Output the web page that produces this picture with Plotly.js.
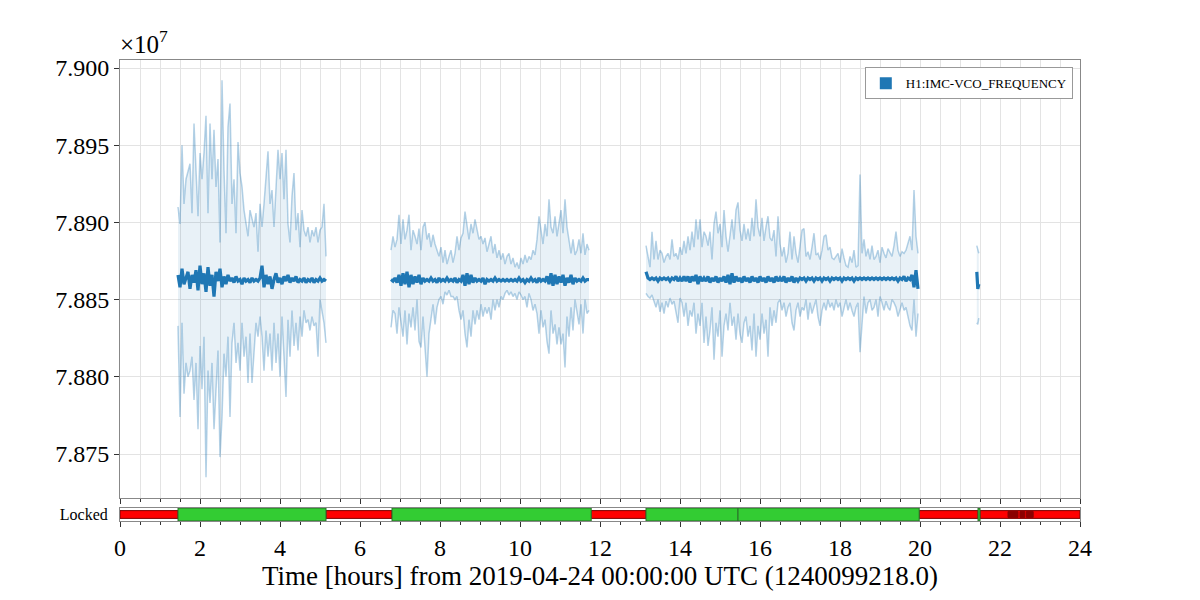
<!DOCTYPE html>
<html>
<head>
<meta charset="utf-8">
<script src="https://cdn.plot.ly/plotly-3.0.1.min.js"></script>
<style>
  html, body { margin: 0; padding: 0; background: #fff; }
  #chart { width: 1200px; height: 600px; }
</style>
</head>
<body>
<div id="chart"></div>
<script>
// H1:IMC-VCO_FREQUENCY, minute trends (values in units of 1e7 Hz)
// sampled every 0.05 h inside each lock stretch

// stretch 1: 1.45 h -> 5.15 h
const freqMax1 = [
  7.8910, 7.8899, 7.8950, 7.8912, 7.8928, 7.8934, 7.8938, 7.8906, 7.8964, 7.8934,
  7.8904, 7.8945, 7.8928, 7.8945, 7.8969, 7.8906, 7.8964, 7.8928, 7.8960, 7.8923,
  7.8941, 7.8887, 7.8992, 7.8934, 7.8893, 7.8962, 7.8977, 7.8912, 7.8928, 7.8893,
  7.8952, 7.8932, 7.8923, 7.8908, 7.8899, 7.8891, 7.8908, 7.8902, 7.8897, 7.8906,
  7.8881, 7.8912, 7.8897, 7.8912, 7.8928, 7.8946, 7.8912, 7.8921, 7.8897, 7.8921,
  7.8947, 7.8928, 7.8945, 7.8915, 7.8947, 7.8899, 7.8887, 7.8917, 7.8932, 7.8895,
  7.8906, 7.8884, 7.8908, 7.8895, 7.8891, 7.8897, 7.8887, 7.8895, 7.8891, 7.8897,
  7.8887, 7.8895, 7.8897, 7.8912, 7.8878
];
const freqMin1 = [
  7.8833, 7.8774, 7.8835, 7.8789, 7.8809, 7.8800, 7.8804, 7.8813, 7.8785, 7.8809,
  7.8766, 7.8820, 7.8792, 7.8826, 7.8735, 7.8804, 7.8783, 7.8809, 7.8766, 7.8792,
  7.8817, 7.8748, 7.8774, 7.8815, 7.8800, 7.8826, 7.8774, 7.8822, 7.8835, 7.8809,
  7.8822, 7.8804, 7.8835, 7.8813, 7.8826, 7.8796, 7.8828, 7.8796, 7.8820, 7.8835,
  7.8826, 7.8839, 7.8826, 7.8804, 7.8830, 7.8813, 7.8828, 7.8804, 7.8835, 7.8809,
  7.8828, 7.8800, 7.8839, 7.8817, 7.8787, 7.8837, 7.8813, 7.8843, 7.8820, 7.8835,
  7.8817, 7.8839, 7.8826, 7.8843, 7.8835, 7.8837, 7.8830, 7.8839, 7.8833, 7.8835,
  7.8813, 7.8850, 7.8843, 7.8835, 7.8822
];
const freqMean1 = [
  7.8866, 7.8858, 7.8870, 7.8860, 7.8864, 7.8868, 7.8857, 7.8866, 7.8861, 7.8869,
  7.8856, 7.8872, 7.8860, 7.8867, 7.8855, 7.8871, 7.8859, 7.8866, 7.8852, 7.8868,
  7.8862, 7.8870, 7.8858, 7.8865, 7.8860, 7.8866, 7.8862, 7.8864, 7.8861, 7.8865,
  7.8862, 7.8863, 7.8860, 7.8864, 7.8862, 7.8863, 7.8861, 7.8864, 7.8862, 7.8863,
  7.8862, 7.8864, 7.8872, 7.8858, 7.8866, 7.8860, 7.8865, 7.8857, 7.8863, 7.8867,
  7.8861, 7.8864, 7.8860, 7.8865, 7.8862, 7.8866, 7.8861, 7.8864, 7.8862, 7.8865,
  7.8861, 7.8863, 7.8862, 7.8864, 7.8861, 7.8863, 7.8862, 7.8864, 7.8861, 7.8863,
  7.8862, 7.8864, 7.8862, 7.8863, 7.8862
];

// stretch 2: 6.775 h -> 11.725 h
const freqMax2 = [
  7.8882, 7.8891, 7.8884, 7.8889, 7.8905, 7.8886, 7.8902, 7.8889, 7.8895, 7.8905,
  7.8882, 7.8895, 7.8891, 7.8886, 7.8896, 7.8882, 7.8897, 7.8900, 7.8889, 7.8893,
  7.8884, 7.8892, 7.8886, 7.8882, 7.8878, 7.8884, 7.8874, 7.8882, 7.8873, 7.8878,
  7.8882, 7.8874, 7.8880, 7.8891, 7.8882, 7.8890, 7.8893, 7.8907, 7.8896, 7.8889,
  7.8899, 7.8893, 7.8902, 7.8894, 7.8889, 7.8891, 7.8886, 7.8890, 7.8881, 7.8886,
  7.8891, 7.8880, 7.8886, 7.8877, 7.8882, 7.8876, 7.8880, 7.8873, 7.8878, 7.8880,
  7.8873, 7.8877, 7.8871, 7.8874, 7.8870, 7.8877, 7.8873, 7.8879, 7.8874, 7.8878,
  7.8876, 7.8882, 7.8879, 7.8889, 7.8904, 7.8895, 7.8886, 7.8899, 7.8891, 7.8915,
  7.8897, 7.8893, 7.8904, 7.8891, 7.8899, 7.8908, 7.8893, 7.8915, 7.8897, 7.8889,
  7.8880, 7.8889, 7.8879, 7.8882, 7.8889, 7.8880, 7.8893, 7.8879, 7.8886, 7.8882
];
const freqMin2 = [
  7.8832, 7.8843, 7.8841, 7.8828, 7.8845, 7.8837, 7.8826, 7.8843, 7.8821, 7.8841,
  7.8832, 7.8845, 7.8830, 7.8850, 7.8823, 7.8819, 7.8839, 7.8819, 7.8800, 7.8828,
  7.8839, 7.8847, 7.8834, 7.8845, 7.8850, 7.8852, 7.8847, 7.8855, 7.8853, 7.8856,
  7.8852, 7.8852, 7.8850, 7.8852, 7.8843, 7.8837, 7.8843, 7.8828, 7.8819, 7.8837,
  7.8826, 7.8843, 7.8834, 7.8843, 7.8837, 7.8847, 7.8839, 7.8845, 7.8841, 7.8845,
  7.8837, 7.8850, 7.8843, 7.8850, 7.8845, 7.8852, 7.8850, 7.8854, 7.8856, 7.8853,
  7.8855, 7.8852, 7.8854, 7.8850, 7.8855, 7.8853, 7.8850, 7.8852, 7.8845, 7.8854,
  7.8850, 7.8843, 7.8847, 7.8841, 7.8828, 7.8843, 7.8832, 7.8837, 7.8823, 7.8815,
  7.8843, 7.8828, 7.8834, 7.8821, 7.8832, 7.8821, 7.8828, 7.8806, 7.8839, 7.8826,
  7.8845, 7.8830, 7.8850, 7.8841, 7.8834, 7.8847, 7.8828, 7.8850, 7.8841, 7.8843
];
const freqMean2 = [
  7.8863, 7.8862, 7.8864, 7.8861, 7.8866, 7.8859, 7.8867, 7.8860, 7.8868, 7.8858,
  7.8866, 7.8860, 7.8865, 7.8861, 7.8866, 7.8860, 7.8864, 7.8862, 7.8863, 7.8862,
  7.8864, 7.8862, 7.8863, 7.8861, 7.8864, 7.8862, 7.8863, 7.8862, 7.8864, 7.8862,
  7.8863, 7.8862, 7.8864, 7.8861, 7.8863, 7.8862, 7.8866, 7.8859, 7.8867, 7.8860,
  7.8866, 7.8861, 7.8864, 7.8862, 7.8863, 7.8862, 7.8864, 7.8860, 7.8863, 7.8862,
  7.8863, 7.8862, 7.8864, 7.8862, 7.8863, 7.8862, 7.8863, 7.8862, 7.8863, 7.8862,
  7.8863, 7.8862, 7.8863, 7.8862, 7.8864, 7.8862, 7.8863, 7.8861, 7.8863, 7.8862,
  7.8864, 7.8862, 7.8863, 7.8861, 7.8864, 7.8862, 7.8863, 7.8862, 7.8865, 7.8860,
  7.8867, 7.8859, 7.8866, 7.8860, 7.8865, 7.8861, 7.8866, 7.8859, 7.8864, 7.8861,
  7.8866, 7.8860, 7.8864, 7.8862, 7.8863, 7.8862, 7.8864, 7.8862, 7.8863, 7.8863
];

// stretch 3: 13.15 h -> 19.95 h
const freqMax3 = [
  7.8885, 7.8878, 7.8871, 7.8894, 7.8876, 7.8888, 7.8876, 7.8882, 7.8880, 7.8874,
  7.8878, 7.8880, 7.8876, 7.8889, 7.8878, 7.8880, 7.8876, 7.8884, 7.8879, 7.8888,
  7.8880, 7.8891, 7.8882, 7.8894, 7.8884, 7.8902, 7.8889, 7.8902, 7.8884, 7.8894,
  7.8891, 7.8885, 7.8894, 7.8876, 7.8899, 7.8907, 7.8893, 7.8899, 7.8884, 7.8908,
  7.8891, 7.8881, 7.8892, 7.8902, 7.8889, 7.8908, 7.8913, 7.8895, 7.8888, 7.8899,
  7.8889, 7.8896, 7.8888, 7.8903, 7.8891, 7.8915, 7.8897, 7.8891, 7.8903, 7.8888,
  7.8897, 7.8904, 7.8890, 7.8888, 7.8895, 7.8878, 7.8904,
  7.8886, 7.8878, 7.8884, 7.8874, 7.8880, 7.8894, 7.8876, 7.8891, 7.8880, 7.8874,
  7.8884, 7.8895, 7.8896, 7.8878, 7.8881, 7.8876, 7.8884, 7.8893, 7.8879, 7.8880,
  7.8876, 7.8882, 7.8891, 7.8892, 7.8882, 7.8884, 7.8877, 7.8876, 7.8878, 7.8880,
  7.8874, 7.8883, 7.8877, 7.8872, 7.8871, 7.8878, 7.8874, 7.8882, 7.8871, 7.8872,
  7.8931, 7.8880, 7.8889, 7.8878, 7.8883, 7.8876, 7.8885, 7.8876, 7.8878, 7.8882,
  7.8874, 7.8884, 7.8880, 7.8877, 7.8883, 7.8880, 7.8878, 7.8885, 7.8894, 7.8882,
  7.8878, 7.8881, 7.8880, 7.8882, 7.8886, 7.8891, 7.8882, 7.8921, 7.8891, 7.8880
];
const freqMin3 = [
  7.8854, 7.8852, 7.8851, 7.8853, 7.8849, 7.8845, 7.8850, 7.8842, 7.8848, 7.8841,
  7.8849, 7.8845, 7.8851, 7.8847, 7.8849, 7.8843, 7.8835, 7.8851, 7.8848, 7.8839,
  7.8848, 7.8833, 7.8843, 7.8839, 7.8848, 7.8828, 7.8841, 7.8833, 7.8848, 7.8822,
  7.8839, 7.8820, 7.8830, 7.8845, 7.8811, 7.8835, 7.8826, 7.8843, 7.8813, 7.8833,
  7.8841, 7.8830, 7.8848, 7.8833, 7.8839, 7.8824, 7.8841, 7.8828, 7.8822, 7.8835,
  7.8839, 7.8826, 7.8833, 7.8817, 7.8841, 7.8813, 7.8833, 7.8824, 7.8841, 7.8828,
  7.8837, 7.8813, 7.8845, 7.8833, 7.8843, 7.8835, 7.8848,
  7.8850, 7.8843, 7.8848, 7.8839, 7.8845, 7.8848, 7.8835, 7.8830, 7.8843, 7.8848,
  7.8839, 7.8845, 7.8843, 7.8850, 7.8837, 7.8848, 7.8841, 7.8845, 7.8850, 7.8839,
  7.8833, 7.8843, 7.8848, 7.8843, 7.8850, 7.8845, 7.8848, 7.8843, 7.8850, 7.8845,
  7.8848, 7.8839, 7.8845, 7.8850, 7.8843, 7.8848, 7.8843, 7.8839, 7.8845, 7.8848,
  7.8816, 7.8835, 7.8852, 7.8841, 7.8848, 7.8850, 7.8843, 7.8845, 7.8850, 7.8839,
  7.8852, 7.8848, 7.8843, 7.8849, 7.8845, 7.8843, 7.8850, 7.8848, 7.8845, 7.8839,
  7.8843, 7.8848, 7.8843, 7.8845, 7.8839, 7.8833, 7.8830, 7.8850, 7.8826, 7.8841
];
const freqMean3 = [
  7.8868, 7.8864, 7.8863, 7.8864, 7.8863, 7.8864, 7.8862, 7.8864, 7.8863, 7.8864,
  7.8863, 7.8864, 7.8862, 7.8864, 7.8863, 7.8865, 7.8862, 7.8864, 7.8862, 7.8865,
  7.8862, 7.8865, 7.8861, 7.8865, 7.8862, 7.8866, 7.8860, 7.8865, 7.8862, 7.8864,
  7.8862, 7.8865, 7.8861, 7.8864, 7.8862, 7.8865, 7.8861, 7.8864, 7.8862, 7.8865,
  7.8861, 7.8866, 7.8860, 7.8867, 7.8861, 7.8865, 7.8862, 7.8864, 7.8861, 7.8865,
  7.8862, 7.8864, 7.8861, 7.8865, 7.8862, 7.8864, 7.8861, 7.8865, 7.8862, 7.8864,
  7.8861, 7.8865, 7.8862, 7.8864, 7.8861, 7.8865, 7.8862, 7.8864, 7.8862, 7.8865,
  7.8861, 7.8864, 7.8862, 7.8865, 7.8861, 7.8864, 7.8862, 7.8864, 7.8863, 7.8864,
  7.8862, 7.8864, 7.8863, 7.8864, 7.8862, 7.8864, 7.8863, 7.8864, 7.8862, 7.8864,
  7.8863, 7.8864, 7.8862, 7.8864, 7.8863, 7.8864, 7.8863, 7.8864, 7.8862, 7.8864,
  7.8863, 7.8864, 7.8863, 7.8864, 7.8862, 7.8864, 7.8863, 7.8864, 7.8863, 7.8864,
  7.8863, 7.8864, 7.8863, 7.8864, 7.8863, 7.8864, 7.8863, 7.8864, 7.8863, 7.8864,
  7.8863, 7.8864, 7.8863, 7.8864, 7.8863, 7.8864, 7.8862, 7.8864, 7.8863, 7.8865,
  7.8862, 7.8864, 7.8863, 7.8866, 7.8858, 7.8869, 7.8857
];

// stretch 4: short lock around 21.45 h
const freqMax4 = [7.8885, 7.8883, 7.8880];
const freqMin4 = [7.8835, 7.8834, 7.8838];
const freqMean4 = [7.8868, 7.8857, 7.8860];

// segment start times (hours) and sample step
const stretchStart = [1.45, 6.775, 13.15, 21.42];
const stretchStep = [0.05, 0.05, 0.05, 0.025];

// Locked flag segments (hours)
const activeStart = [1.45, 6.8, 13.15, 15.45, 21.45];
const activeEnd = [5.15, 11.78, 15.45, 19.98, 21.5];
const knownStart = [0, 5.15, 11.78, 19.98, 21.5];
const knownEnd = [1.45, 6.8, 13.15, 21.45, 24];
const darkStart = [22.2, 22.5, 22.66];
const darkEnd = [22.45, 22.62, 22.83];

const xTickVals = [0, 2, 4, 6, 8, 10, 12, 14, 16, 18, 20, 22, 24];

const maxes = [freqMax1, freqMax2, freqMax3, freqMax4];
const mins = [freqMin1, freqMin2, freqMin3, freqMin4];
const means = [freqMean1, freqMean2, freqMean3, freqMean4];

const blue = '#1f77b4';
const pale = 'rgba(31,119,180,0.32)';
const serif = 'Liberation Serif, DejaVu Serif, serif';
const traces = [];

for (let i = 0; i < maxes.length; i++) {
  traces.push({
    type: 'scatter', mode: 'lines', x0: stretchStart[i], dx: stretchStep[i], y: mins[i],
    line: {color: pale, width: 1.5}, showlegend: false, hoverinfo: 'skip'
  });
  traces.push({
    type: 'scatter', mode: 'lines', x0: stretchStart[i], dx: stretchStep[i], y: maxes[i],
    fill: 'tonexty', fillcolor: 'rgba(31,119,180,0.1)',
    line: {color: pale, width: 1.5}, showlegend: false, hoverinfo: 'skip'
  });
}
for (let i = 0; i < means.length; i++) {
  traces.push({
    type: 'scatter', mode: 'lines', x0: stretchStart[i], dx: stretchStep[i], y: means[i],
    line: {color: blue, width: 3.2}, showlegend: false
  });
}

// legend patch only
traces.push({
  type: 'bar', x: [null], y: [null], name: 'H1:IMC-VCO_FREQUENCY',
  marker: {color: blue}, showlegend: true
});

function segBars(starts, ends, color, edge, width) {
  return {
    type: 'bar', orientation: 'h', xaxis: 'x2', yaxis: 'y2',
    base: starts, x: starts.map((s, k) => ends[k] - s), y: starts.map(() => 0),
    width: width, marker: {color: color, line: {color: edge, width: 1}},
    showlegend: false, hoverinfo: 'skip'
  };
}
traces.push(segBars(knownStart, knownEnd, '#ff0000', '#7a0000', 0.6));
traces.push(segBars(activeStart, activeEnd, '#33cc33', '#2a6e2a', 1.0));
traces.push(segBars(darkStart, darkEnd, '#8b0000', '#8b0000', 0.45));

const axisFont = {family: serif, size: 24, color: '#000'};

const layout = {
  width: 1200, height: 600,
  margin: {l: 0, r: 0, t: 0, b: 0},
  paper_bgcolor: '#fff', plot_bgcolor: '#fff',
  font: {family: serif, color: '#000'},
  barmode: 'overlay',
  xaxis: {
    domain: [0.1, 0.9], anchor: 'y', range: [0, 24],
    tickvals: xTickVals, showticklabels: false,
    ticks: 'outside', ticklen: 5, tickcolor: '#333',
    showgrid: true, gridcolor: '#e3e3e3', gridwidth: 1,
    minor: {dtick: 0.5, ticks: 'outside', ticklen: 3, tickcolor: '#333', showgrid: true, gridcolor: '#e3e3e3'},
    showline: true, linecolor: '#888', mirror: true, zeroline: false
  },
  yaxis: {
    domain: [0.17, 0.9], anchor: 'x', range: [7.87215, 7.90052],
    tick0: 7.875, dtick: 0.005, tickformat: '.3f',
    ticks: 'outside', ticklen: 5, tickcolor: '#333', tickfont: axisFont,
    showgrid: true, gridcolor: '#e3e3e3',
    showline: true, linecolor: '#888', mirror: true, zeroline: false
  },
  xaxis2: {
    domain: [0.1, 0.9], anchor: 'y2', range: [0, 24],
    tickvals: xTickVals, ticks: 'outside', ticklen: 5, tickcolor: '#333',
    minor: {dtick: 0.5, ticks: 'outside', ticklen: 3, tickcolor: '#333'},
    tickfont: axisFont, showgrid: false, zeroline: false,
    showline: true, linecolor: '#888', mirror: true,
    title: {text: 'Time [hours] from 2019-04-24 00:00:00 UTC (1240099218.0)',
            font: {family: serif, size: 27, color: '#000'}, standoff: 4}
  },
  yaxis2: {
    domain: [0.1317, 0.1533], anchor: 'x2', range: [-0.5, 0.5],
    tickvals: [0], ticktext: ['Locked'], ticks: '', ticklabelstandoff: 8,
    tickfont: {family: serif, size: 16, color: '#000'},
    showgrid: false, zeroline: false, showline: true, linecolor: '#888', mirror: true
  },
  legend: {
    x: 0.894, y: 0.888, xanchor: 'right', yanchor: 'top',
    bgcolor: '#fff', bordercolor: '#999', borderwidth: 1,
    font: {family: serif, size: 13, color: '#000'}
  },
  annotations: [{
    xref: 'paper', yref: 'paper', x: 0.098, y: 0.9, xanchor: 'left', yanchor: 'bottom',
    text: '×10<sup>7</sup>', showarrow: false,
    font: {family: serif, size: 25, color: '#000'}
  }]
};

Plotly.newPlot('chart', traces, layout, {displayModeBar: false, staticPlot: true});
</script>
</body>
</html>
